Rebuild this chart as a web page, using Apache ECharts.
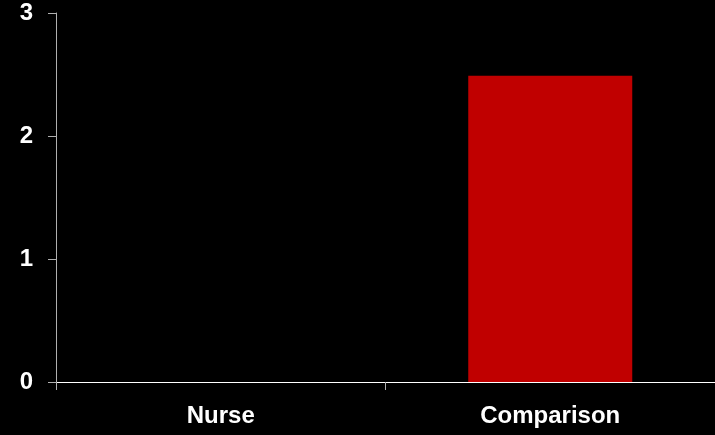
<!DOCTYPE html>
<html>
<head>
<meta charset="utf-8">
<script src="https://cdn.jsdelivr.net/npm/echarts@6/dist/echarts.min.js"></script>
<style>
  html, body { margin: 0; padding: 0; background: #000; }
  #chart { width: 715px; height: 435px; }
</style>
</head>
<body>
<div id="chart"></div>
<script>
const categories = ['Nurse', 'Comparison'];
const values = [0, 2.49];
const yTicks = [0, 1, 2, 3];

const chart = echarts.init(document.getElementById('chart'));

const option = {
  backgroundColor: '#000',
  animation: false,
  grid: { left: 56, right: -1, top: 13, bottom: 53 },
  xAxis: {
    type: 'category',
    data: categories,
    axisLine: { lineStyle: { color: '#ffffff', width: 1 } },
    axisTick: { show: true, length: 8, lineStyle: { color: '#b0b0b0' } },
    axisLabel: {
      color: '#fff',
      fontFamily: 'Liberation Sans, Arial, sans-serif',
      fontWeight: 'bold',
      fontSize: 24,
      margin: 22
    }
  },
  yAxis: {
    type: 'value',
    min: yTicks[0],
    max: yTicks[yTicks.length - 1],
    interval: 1,
    splitLine: { show: false },
    axisLine: { show: true, lineStyle: { color: '#b0b0b0', width: 1 } },
    axisTick: { show: true, length: 8, lineStyle: { color: '#b0b0b0' } },
    axisLabel: {
      color: '#fff',
      fontFamily: 'Liberation Sans, Arial, sans-serif',
      fontWeight: 'bold',
      fontSize: 24,
      margin: 23
    }
  },
  series: [
    {
      type: 'bar',
      data: values,
      barWidth: 164,
      itemStyle: { color: '#c00000' }
    }
  ]
};

chart.setOption(option);
</script>
</body>
</html>
